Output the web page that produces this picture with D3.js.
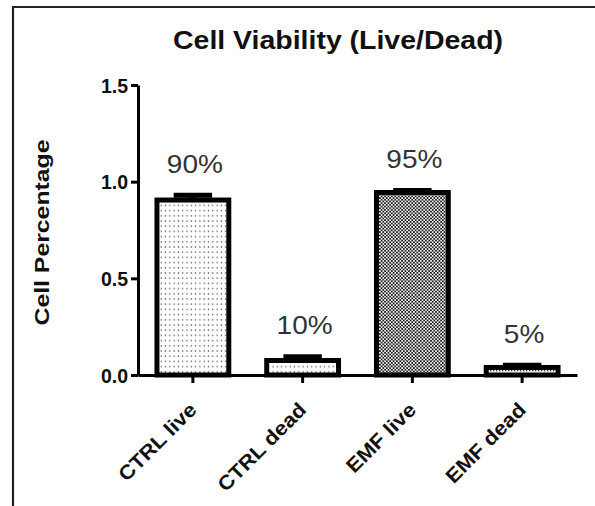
<!DOCTYPE html>
<html><head><meta charset="utf-8">
<script src="https://cdn.jsdelivr.net/npm/d3@7"></script>
<style>
html,body{margin:0;padding:0;background:#fff;}
svg{display:block;font-family:"Liberation Sans",Arial,sans-serif;}
</style></head>
<body>
<svg id="c" width="595" height="506"></svg>
<script>
const categories = ["CTRL live", "CTRL dead", "EMF live", "EMF dead"];
const values = [0.905, 0.075, 0.944, 0.039];
const errors = [0.025, 0.02, 0.01, 0.012];
const pctLabels = ["90%", "10%", "95%", "5%"];
const patterns = ["dots", "dots", "checker", "fineDots"];
const yTicks = [0, 0.5, 1.0, 1.5];
const title = "Cell  Viability (Live/Dead)";
const yTitle = "Cell Percentage";

const svg = d3.select("#c");
const defs = svg.append("defs");

// sparse dots
const p1 = defs.append("pattern").attr("id","dots").attr("patternUnits","userSpaceOnUse")
  .attr("width",4.3).attr("height",5.2);
p1.append("rect").attr("width",4.3).attr("height",5.2).attr("fill","#fff");
p1.append("rect").attr("x",1.5).attr("y",2).attr("width",1.2).attr("height",1.2).attr("fill","#333");
// dense checker
const p2 = defs.append("pattern").attr("id","checker").attr("patternUnits","userSpaceOnUse")
  .attr("width",3.4).attr("height",3.4);
p2.append("rect").attr("width",3.4).attr("height",3.4).attr("fill","#1a1a1a");
p2.append("rect").attr("x",0).attr("y",0).attr("width",1.7).attr("height",1.7).attr("fill","#f4f4f4");
p2.append("rect").attr("x",1.7).attr("y",1.7).attr("width",1.7).attr("height",1.7).attr("fill","#f4f4f4");
// fine dots
const p3 = defs.append("pattern").attr("id","fineDots").attr("patternUnits","userSpaceOnUse")
  .attr("width",3).attr("height",3);
p3.append("rect").attr("width",3).attr("height",3).attr("fill","#fff");
p3.append("rect").attr("x",1).attr("y",1).attr("width",1.3).attr("height",1.3).attr("fill","#333");

// frame
svg.append("path").attr("d","M13,506V7H595").attr("fill","none").attr("stroke","#222").attr("stroke-width",2.2);

const x = d3.scaleBand().domain(categories).range([138, 577]).paddingInner(0.3).paddingOuter(0.15);
const y = d3.scaleLinear().domain([0, 1.5]).range([375, 85]);

const data = categories.map((c,i)=>({c, v:values[i], e:errors[i], l:pctLabels[i], p:patterns[i]}));
const SW = 5;

// bars
svg.append("g").selectAll("rect").data(data).join("rect")
  .attr("x", d => x(d.c) + SW/2)
  .attr("width", x.bandwidth() - SW)
  .attr("y", d => y(d.v))
  .attr("height", d => y(0) - y(d.v))
  .attr("fill", d => `url(#${d.p})`)
  .attr("stroke", "#000").attr("stroke-width", SW);

// error bars
const eg = svg.append("g").attr("stroke","#000").attr("stroke-width",SW);
data.forEach(d => {
  const cx = x(d.c) + x.bandwidth()/2;
  eg.append("line").attr("x1",cx).attr("x2",cx).attr("y1",y(d.v)).attr("y2",y(d.v+d.e));
  eg.append("line").attr("x1",cx - x.bandwidth()/4).attr("x2",cx + x.bandwidth()/4)
    .attr("y1",y(d.v+d.e)).attr("y2",y(d.v+d.e));
});

// percent labels
svg.append("g").selectAll("text").data(data).join("text")
  .attr("x", d => x(d.c) + x.bandwidth()/2 + 2)
  .attr("y", d => y(d.v + d.e) - 2.5 - 20)
  .attr("text-anchor","middle")
  .attr("font-size",25).attr("fill","#333")
  .text(d => d.l)
  .each(function(){ const L=this.getComputedTextLength(); d3.select(this).attr("textLength",L*1.12).attr("lengthAdjust","spacingAndGlyphs"); });

// y axis
const ya = svg.append("g").attr("transform","translate(138,0)")
  .call(d3.axisLeft(y).tickValues(yTicks).tickFormat(d3.format(".1f")).tickSize(7).tickSizeOuter(0));
ya.select(".domain").attr("stroke","#000").attr("stroke-width",3);
ya.selectAll(".tick line").attr("stroke","#000").attr("stroke-width",3);
ya.selectAll(".tick text").attr("font-size",19.5).attr("font-weight","bold").attr("fill","#111")
  .attr("font-family","Liberation Sans, Arial, sans-serif").attr("x",-10).attr("dy","0.36em");

// x axis
const xa = svg.append("g").attr("transform","translate(0,375)")
  .call(d3.axisBottom(x).tickSize(8).tickSizeOuter(0));
xa.select(".domain").attr("stroke","#000").attr("stroke-width",3);
xa.selectAll(".tick line").attr("stroke","#000").attr("stroke-width",3);
xa.selectAll(".tick text").attr("font-size",20).attr("font-weight","bold").attr("fill","#111")
  .attr("font-family","Liberation Sans, Arial, sans-serif")
  .attr("text-anchor","end").attr("y",0).attr("dy",0)
  .attr("transform","translate(5,36) rotate(-45)")
  .each(function(){ const L=this.getComputedTextLength(); d3.select(this).attr("textLength",L*1.1).attr("lengthAdjust","spacingAndGlyphs"); });

// title
svg.append("text").attr("x",338).attr("y",49).attr("text-anchor","middle")
  .attr("font-size",25).attr("font-weight","bold").attr("fill","#111")
  .attr("textLength",330).attr("lengthAdjust","spacingAndGlyphs")
  .text(title);

// y title
svg.append("text").attr("transform","translate(49,232.5) rotate(-90)").attr("text-anchor","middle")
  .attr("font-size",19.5).attr("font-weight","bold").attr("fill","#111")
  .attr("textLength",186).attr("lengthAdjust","spacingAndGlyphs")
  .text(yTitle);
</script>
</body></html>
